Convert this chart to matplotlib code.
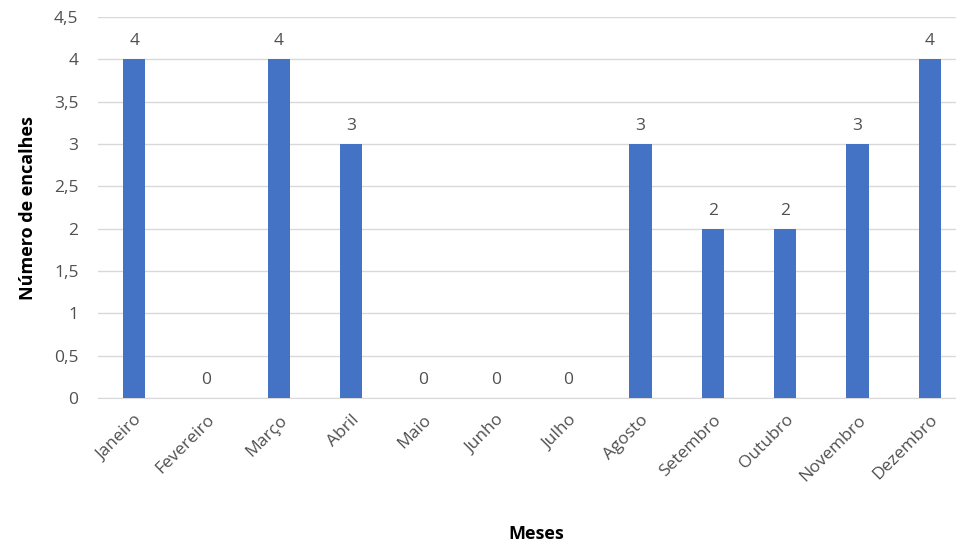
import matplotlib.pyplot as plt

meses = ['Janeiro', 'Fevereiro', 'Março', 'Abril', 'Maio', 'Junho', 'Julho',
         'Agosto', 'Setembro', 'Outubro', 'Novembro', 'Dezembro']
encalhes = [4, 0, 4, 3, 0, 0, 0, 3, 2, 2, 3, 4]
yticks = [0, 0.5, 1, 1.5, 2, 2.5, 3, 3.5, 4, 4.5]

plt.rcParams['font.family'] = ['Open Sans', 'DejaVu Sans']
cinza = '#505050'

fig = plt.figure(figsize=(9.56, 5.47), dpi=100)
ax = fig.add_axes([98 / 956, 1 - 398 / 547, (956 - 98) / 956, (398 - 17) / 547])

x = range(len(meses))
ax.bar(x, encalhes, width=0.31, color='#4472C4', zorder=3)
for i, v in zip(x, encalhes):
    ax.text(i, v + 0.12, str(v), ha='center', va='bottom', fontsize=12.5, color=cinza)

ax.set_xlim(-0.5, 11.36)
ax.set_ylim(0, 4.5)
ax.set_yticks(yticks)
ax.set_yticklabels([str(t).replace('.', ',').replace(',0', '') for t in yticks])
ax.set_xticks(list(x))
ax.set_xticklabels(meses, rotation=45, ha='right', rotation_mode='anchor')
ax.tick_params(axis='both', length=0, labelsize=12.5, labelcolor=cinza)
ax.tick_params(axis='y', pad=14)
ax.tick_params(axis='x', pad=10)
ax.grid(axis='y', color='#D9D9D9', linewidth=1, zorder=0)
for s in ['top', 'right', 'left']:
    ax.spines[s].set_visible(False)
ax.spines['bottom'].set_color('#D9D9D9')

ax.set_xlabel('Meses', fontsize=13, fontweight='bold')
ax.set_ylabel('Número de encalhes', fontsize=13, fontweight='bold')
ax.xaxis.set_label_coords((536 - 98) / (956 - 98), -(525 - 398) / (398 - 17))
ax.yaxis.set_label_coords(-(98 - 37) / (956 - 98), (398 - 208) / (398 - 17))

fig.savefig('out.png', dpi=100)
